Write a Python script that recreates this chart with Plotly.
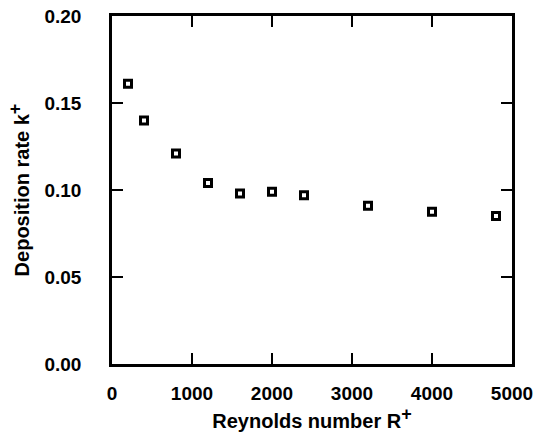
import plotly.graph_objects as go

# Reynolds number R+ and measured deposition rate k+
reynolds = [200, 400, 800, 1200, 1600, 2000, 2400, 3200, 4000, 4800]
deposition = [0.161, 0.140, 0.121, 0.104, 0.098, 0.099, 0.097, 0.091, 0.0875, 0.085]

x_ticks = [0, 1000, 2000, 3000, 4000, 5000]
y_ticks = [0.00, 0.05, 0.10, 0.15, 0.20]

FONT = "Liberation Sans, Arial, sans-serif"
PLUS = "<sup><span style='font-size:18px'>+</span></sup>"

fig = go.Figure(
    go.Scatter(
        x=reynolds,
        y=deposition,
        mode="markers",
        marker=dict(symbol="square-open", size=7, color="black",
                    line=dict(width=3, color="black")),
    )
)

axis_common = dict(
    showgrid=False,
    zeroline=False,
    showline=True,
    linecolor="black",
    linewidth=2.5,
    mirror="ticks",
    ticks="inside",
    ticklen=11,
    tickwidth=2,
    tickcolor="black",
    automargin=False,
    tickfont=dict(family=FONT, size=19, color="black", weight="bold"),
)

fig.update_xaxes(
    range=[0, 5000],
    tickvals=x_ticks,
    ticktext=[str(v) for v in x_ticks],
    ticklabelstandoff=10,
    title=dict(text="Reynolds number R" + PLUS,
               font=dict(family=FONT, size=20, color="black", weight="bold"),
               standoff=10),
    **axis_common,
)
fig.update_yaxes(
    range=[0, 0.20],
    tickvals=y_ticks,
    ticktext=[f"{v:.2f}" for v in y_ticks],
    ticklabelstandoff=24,
    title=dict(text="Deposition rate k" + PLUS,
               font=dict(family=FONT, size=20, color="black", weight="bold"),
               standoff=10),
    **axis_common,
)

fig.update_layout(
    width=534,
    height=435,
    margin=dict(l=112, r=22, t=16, b=71),
    plot_bgcolor="white",
    paper_bgcolor="white",
    showlegend=False,
)

fig.write_html("out.html")
